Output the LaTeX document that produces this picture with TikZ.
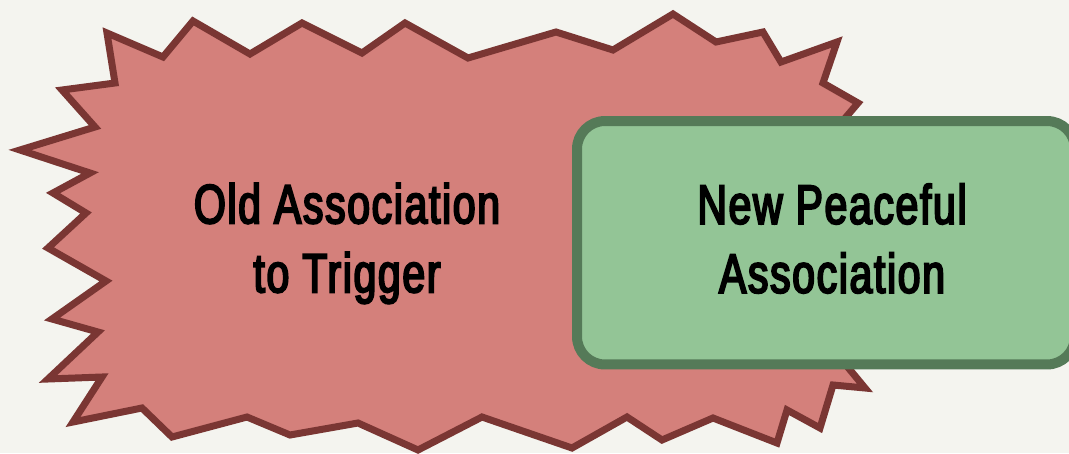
\documentclass[tikz,border=0pt]{standalone}
\usepackage{fontspec}
\setmainfont{Liberation Sans}[FakeStretch=0.74, LetterSpace=3, FakeBold=3.5]
\usepackage{tikz}
\definecolor{paper}{HTML}{F4F4EF}
\definecolor{oldfill}{HTML}{D4807B}
\definecolor{olddraw}{HTML}{7A3633}
\definecolor{newfill}{HTML}{93C596}
\definecolor{newdraw}{HTML}{557A58}
\tikzset{
  burst/.style={draw=olddraw, fill=oldfill, line width=5.25pt, line join=miter, miter limit=10},
  calm/.style={draw=newdraw, fill=newfill, line width=7.5pt, rounded corners=21pt,
    minimum width=373.5pt, minimum height=182.6pt, inner sep=0pt},
  lab/.style={text=black, font=\fontsize{41.5}{51.75}\selectfont, align=center, inner sep=0pt},
}

\begin{document}
\begin{tikzpicture}[x=0.75pt, y=-0.75pt]
\fill[paper] (0,0) rectangle (1069,453);
\useasboundingbox (0,0) rectangle (1069,453);
\clip (0,0) rectangle (1069,453);

% jagged outline of the old association
\draw[burst] (107,33) -- (163,57) -- (193,21) -- (250,54) -- (302,23) -- (362,53)
  -- (405,23) -- (468,58) -- (556,32) -- (613,50) -- (673,14) -- (716,42)
  -- (763,32) -- (781,62) -- (837,42) -- (823,83) -- (858,103)
  -- (818,150) -- (870,200) -- (830,245) -- (870,290) -- (822,336) % hidden under the box
  -- (865,388) -- (833,385) -- (820,428) -- (787,410) -- (777,443) -- (713,418)
  -- (662,440) -- (627,417) -- (572,448) -- (482,417) -- (418,450) -- (358,423)
  -- (290,435) -- (247,417) -- (172,437) -- (142,408) -- (73,422) -- (102,377)
  -- (48,379) -- (98,332) -- (52,319) -- (106,281) -- (48,248) -- (86,213)
  -- (53,193) -- (90,173) -- (20,150) -- (95,127) -- (62,90) -- (115,83) -- cycle;
\node[lab] (oldtxt) at (347,243.5) {Old Association\\to Trigger};

\node[calm] (newbox) at (826,242.75) {};
\node[lab] (newtxt) at (832,238.5) {New Peaceful\\Association};
\end{tikzpicture}
\end{document}
